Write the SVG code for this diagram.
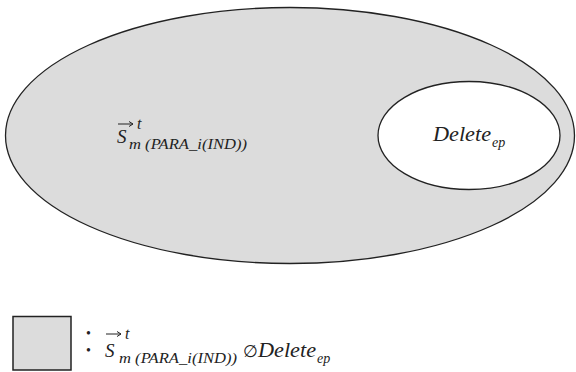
<svg xmlns="http://www.w3.org/2000/svg" width="576" height="372" viewBox="0 0 576 372">
<style>
.set{fill:#dcdcdc;stroke:#222;stroke-width:1.3}
.hole{fill:#fff;stroke:#222;stroke-width:1.3}
.t{font-family:"Liberation Serif","Times New Roman",serif;font-style:italic;fill:#222}
.vec{fill:none;stroke:#222;stroke-width:1}
</style>
<defs>
<path id="vecarrow" class="vec" d="M0 0 H15 M11 -2.5 L15 0 L11 2.5"/>
</defs>
<rect width="576" height="372" fill="#fff"/>
<g id="set-S">
<ellipse class="set" cx="290" cy="135.5" rx="284.5" ry="128"/>
<use href="#vecarrow" x="118" y="124"/>
<text class="t" x="117" y="143" font-size="19">S</text>
<text class="t" x="137" y="129" font-size="16">t</text>
<text class="t" x="129" y="149" font-size="14.5" textLength="118" lengthAdjust="spacingAndGlyphs">m (PARA_i(IND))</text>
</g>
<g id="set-Delete">
<ellipse class="hole" cx="469" cy="135.5" rx="91" ry="54"/>
<text class="t" x="433" y="141" font-size="21" textLength="58" lengthAdjust="spacingAndGlyphs">Delete</text>
<text class="t" x="492" y="147" font-size="14">ep</text>
</g>
<g id="legend">
<rect x="13" y="316.5" width="58" height="53.5" fill="#dcdcdc" stroke="#222" stroke-width="1.5"/>
<text x="86" y="338" font-family="Liberation Serif, serif" font-size="14" fill="#222">•</text>
<text x="86" y="355" font-family="Liberation Serif, serif" font-size="14" fill="#222">•</text>
<use href="#vecarrow" x="106" y="334"/>
<text class="t" x="125" y="339" font-size="16">t</text>
<text class="t" x="105" y="357" font-size="19">S</text>
<text class="t" x="119" y="363" font-size="14.5" textLength="118" lengthAdjust="spacingAndGlyphs">m (PARA_i(IND))</text>
<text x="243" y="357" font-family="Liberation Serif, serif" font-size="17" fill="#222">∅</text>
<text class="t" x="258" y="357" font-size="21" textLength="58" lengthAdjust="spacingAndGlyphs">Delete</text>
<text class="t" x="317" y="363" font-size="14">ep</text>
</g>
</svg>
